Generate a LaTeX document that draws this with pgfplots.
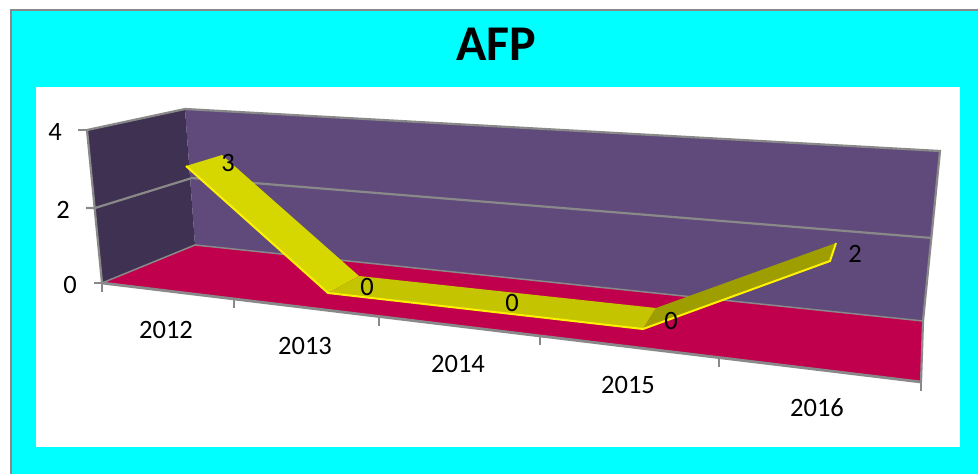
\documentclass[border=0pt]{standalone}
\usepackage{fontspec}
\setmainfont{Carlito}
\usepackage{pgfplots}
\pgfplotsset{compat=1.18}
\definecolor{aqua}{HTML}{00FFFF}
\definecolor{wallback}{HTML}{604A7B}
\definecolor{wallside}{HTML}{3F3151}
\definecolor{floorc}{HTML}{C0004D}
\definecolor{edge}{HTML}{898989}
\definecolor{rib1}{HTML}{D6D600}
\definecolor{rib2}{HTML}{C4C400}
\definecolor{rib3}{HTML}{9E9E00}
\newcommand{\lab}{\fontsize{26.5}{30}\selectfont}
\begin{document}
\begin{tikzpicture}
\begin{axis}[
    width=978pt, height=474pt, scale only axis,
    xmin=0, xmax=978, ymin=0, ymax=474,
    y dir=reverse,
    axis lines=none,
    clip=true
]
% page, frame and plot area
\addplot[fill=white, draw=none] coordinates {(0,0) (978,0) (978,474) (0,474)} -- cycle;
\addplot[fill=aqua, draw=none] coordinates {(11,10) (978,10) (978,474) (11,474)} -- cycle;
\addplot[edge, line width=2pt] coordinates {(10.5,474) (10.5,9.5) (978,9.5)};
\addplot[fill=white, draw=none] coordinates {(36,87) (960,87) (960,447) (36,447)} -- cycle;
% walls
\addplot[fill=wallback, draw=none] coordinates {(185,109) (940,151) (923,321) (195,245)} -- cycle;
\addplot[fill=wallside, draw=none] coordinates {(87,130) (185,109) (195,245) (102,283)} -- cycle;
% gridline at 2
\addplot[edge, line width=2.2pt] coordinates {(86,208) (95,208) (192,178) (932,238)};
% floor
\addplot[fill=floorc, draw=none] coordinates {(195,245) (923,321) (921,382) (102,283)} -- cycle;
\addplot[edge, line width=1.5pt] coordinates {(102,283) (195,245) (923,321)};
% frame lines and ticks
\addplot[edge, line width=2.2pt] coordinates {(102,283) (87,130) (185,109) (940,151) (923,321) (921,382)};
\addplot[edge, line width=2.8pt] coordinates {(102,283) (921,382)};
\addplot[edge, line width=2.2pt] coordinates {(78,130) (87,130)};
\addplot[edge, line width=2.2pt] coordinates {(94,283) (102,283)};
\addplot[edge, line width=2.2pt] coordinates {(102,283) (102,292)};
\addplot[edge, line width=2.2pt] coordinates {(234,299) (234,308)};
\addplot[edge, line width=2.2pt] coordinates {(379,317) (379,326)};
\addplot[edge, line width=2.2pt] coordinates {(540,336) (540,345)};
\addplot[edge, line width=2.2pt] coordinates {(719,358) (719,367)};
\addplot[edge, line width=2.2pt] coordinates {(921,382) (921,391)};
% ribbon for 3,0,0,0,2
\addplot[fill=rib1, draw=none] coordinates {(186,166) (222,155) (359,276) (328,293)} -- cycle;
\addplot[fill=rib2, draw=none] coordinates {(328,293) (359,276) (656,308) (643,329)} -- cycle;
\addplot[fill=rib3, draw=none] coordinates {(643,329) (656,308) (836,243) (830,261)} -- cycle;
\addplot[yellow, line width=2pt] coordinates {(186,166) (328,293) (643,329) (830,261) (836,243)};
% text
\node[font=\fontsize{50}{60}\selectfont\bfseries, inner sep=0pt] at (axis cs:496,44) {AFP};
\node[font=\lab, inner sep=0pt] at (axis cs:55,132) {4};
\node[font=\lab, inner sep=0pt] at (axis cs:63,210) {2};
\node[font=\lab, inner sep=0pt] at (axis cs:70,285) {0};
\node[font=\lab, inner sep=0pt] at (axis cs:166,330) {2012};
\node[font=\lab, inner sep=0pt] at (axis cs:305,346) {2013};
\node[font=\lab, inner sep=0pt] at (axis cs:458,364) {2014};
\node[font=\lab, inner sep=0pt] at (axis cs:628,385) {2015};
\node[font=\lab, inner sep=0pt] at (axis cs:817,408) {2016};
\node[font=\lab, inner sep=0pt] at (axis cs:228,163) {3};
\node[font=\lab, inner sep=0pt] at (axis cs:367,287) {0};
\node[font=\lab, inner sep=0pt] at (axis cs:512,303) {0};
\node[font=\lab, inner sep=0pt] at (axis cs:671,321) {0};
\node[font=\lab, inner sep=0pt] at (axis cs:855,254) {2};
\end{axis}
\end{tikzpicture}
\end{document}
